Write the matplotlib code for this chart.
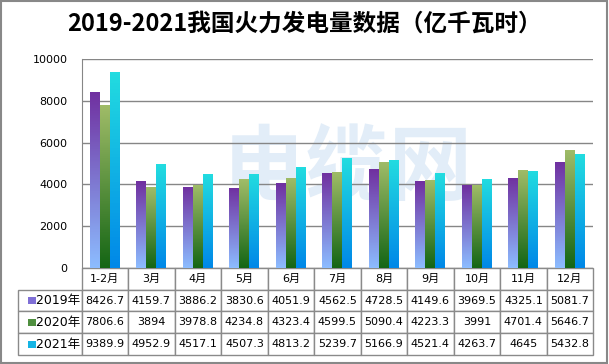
import numpy as np
import matplotlib
matplotlib.use('Agg')
from matplotlib import pyplot as plt
from matplotlib.patches import Rectangle

plt.rcParams['font.family'] = ['DejaVu Sans', 'Noto Sans CJK SC']

months = ['1-2月', '3月', '4月', '5月', '6月', '7月', '8月', '9月', '10月', '11月', '12月']
y2019 = [8426.7, 4159.7, 3886.2, 3830.6, 4051.9, 4562.5, 4728.5, 4149.6, 3969.5, 4325.1, 5081.7]
y2020 = [7806.6, 3894, 3978.8, 4234.8, 4323.4, 4599.5, 5090.4, 4223.3, 3991, 4701.4, 5646.7]
y2021 = [9389.9, 4952.9, 4517.1, 4507.3, 4813.2, 5239.7, 5166.9, 4521.4, 4263.7, 4645, 5432.8]
labels = ['2019年', '2020年', '2021年']
series = [y2019, y2020, y2021]

# gradient (top colour, bottom colour) for each year, plus a flat key colour
grads = [('#7030a0', '#8cbcff'), ('#a0bc68', '#156615'), ('#22dce0', '#0088e8')]
keys = ['#7f6fd6', '#4f8f3f', '#14b4e4']

fig = plt.figure(figsize=(6.09, 3.64), dpi=100)
ax = fig.add_axes([0.134, 0.2637, 0.840, 0.5743])

x = np.arange(len(months))
w = 0.215

# faint watermark
ax.text(0.52, 0.47, '电缆网', transform=ax.transAxes, ha='center', va='center',
        fontsize=60, fontweight='bold', color='#e2edf8', family=['Noto Sans CJK SC'], zorder=0)

for i, vals in enumerate(series):
    top, bottom = grads[i]
    cmap = matplotlib.colors.LinearSegmentedColormap.from_list('g%d' % i, [bottom, top])
    grad = np.linspace(0, 1, 64).reshape(-1, 1)
    bars = ax.bar(x + (i - 1) * w, vals, width=w, color='none', edgecolor='none', zorder=2)
    for b in bars:
        x0, y0 = b.get_x(), b.get_y()
        im = ax.imshow(grad, cmap=cmap, origin='lower', aspect='auto',
                       extent=[x0, x0 + b.get_width(), y0, y0 + b.get_height()], zorder=2)
        im.set_clip_path(b)
ax.set_xlim(-0.5, len(months) - 0.5)
ax.set_ylim(0, 10000)

ax.set_yticks(range(0, 10001, 2000))
ax.yaxis.grid(True, color='#868686', linewidth=1)
ax.set_axisbelow(True)
ax.tick_params(axis='y', length=0, labelsize=8, pad=10)
ax.set_xticks([])
for s in ['top', 'right', 'bottom']:
    ax.spines[s].set_visible(False)
ax.spines['left'].set_color('#868686')

# data table under the chart; bbox covers the month columns only
cell_text = [[('%g' % v) for v in vals] for vals in series]
tab = ax.table(cellText=cell_text, rowLabels=['    ' + l for l in labels], colLabels=months,
               colWidths=[1 / 11] * 11, cellLoc='center', rowLoc='left',
               bbox=[0, -0.416, 1, 0.416])
tab.auto_set_font_size(False)
for (r, c), cell in tab.get_celld().items():
    cell.set_edgecolor('#8a8a8a')
    cell.set_linewidth(1)
    cell.get_text().set_fontsize(8)
    if c == -1:
        cell.set_width(0.1173)
        cell.PAD = 0.03
        cell.get_text().set_fontsize(9)

for i in range(3):
    yc = -0.416 + 0.416 * (2.5 - i) / 4
    ax.add_patch(Rectangle((-0.1055, yc - 0.017), 0.0155, 0.034, transform=ax.transAxes,
                           facecolor=keys[i], edgecolor='none', clip_on=False, zorder=5))

fig.text(0.50, 0.935, '2019-2021我国火力发电量数据（亿千瓦时）', ha='center', va='center',
         fontsize=17, fontweight='bold', family=['Noto Sans CJK SC'])

fig.add_artist(Rectangle((0.001, 0.004), 0.996, 0.994, transform=fig.transFigure,
                         facecolor='none', edgecolor='#888888', linewidth=1.5))

fig.savefig('out.png', dpi=100)
